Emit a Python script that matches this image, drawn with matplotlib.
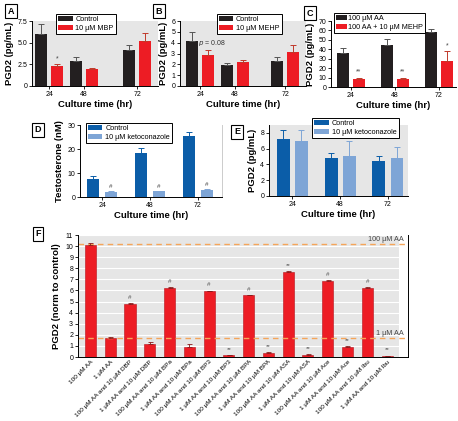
import numpy as np
import matplotlib
matplotlib.use("Agg")
import matplotlib.pyplot as plt

W, H = 458, 421

plt.rcParams['font.family'] = ['Liberation Sans', 'DejaVu Sans']
plt.rcParams['axes.linewidth'] = 0.7
plt.rcParams['xtick.major.width'] = 0.6
plt.rcParams['ytick.major.width'] = 0.6
plt.rcParams['xtick.major.size'] = 2
plt.rcParams['ytick.major.size'] = 2

# ---- data ----
hours = ['24', '48', '72']

a_ctrl = [5.97, 2.9, 4.13]
a_ctrl_err = [1.15, 0.4, 0.65]
a_mbp = [2.35, 1.92, 5.17]
a_mbp_err = [0.2, 0.1, 0.9]

b_ctrl = [4.16, 1.9, 2.3]
b_ctrl_err = [0.8, 0.21, 0.34]
b_mehp = [2.87, 2.18, 3.17]
b_mehp_err = [0.46, 0.21, 0.62]

c_aa = [36.4, 44.5, 58.5]
c_aa_err = [4.6, 6.0, 3.5]
c_mehp = [9.0, 9.0, 27.7]
c_mehp_err = [1.0, 1.0, 10.5]

d_ctrl = [7.5, 18.4, 25.4]
d_ctrl_err = [1.2, 2.0, 1.8]
d_keto = [2.0, 2.3, 2.8]
d_keto_err = [0.4, 0.3, 0.4]

e_ctrl = [7.2, 4.8, 4.45]
e_ctrl_err = [1.2, 0.6, 0.65]
e_keto = [7.0, 5.1, 4.8]
e_keto_err = [1.4, 1.9, 1.4]

f_labels = ['100 µM AA', '1 µM AA',
            '100 µM AA and 10 µM DBP', '1 µM AA and 10 µM DBP',
            '100 µM AA and 10 µM BPa', '1 µM AA and 10 µM BPa',
            '100 µM AA and 10 µM BP3', '1 µM AA and 10 µM BP3',
            '100 µM AA and 10 µM BPA', '1 µM AA and 10 µM BPA',
            '100 µM AA and 10 µM ASA', '1 µM AA and 10 µM ASA',
            '100 µM AA and 10 µM Ace', '1 µM AA and 10 µM Ace',
            '100 µM AA and 10 µM Ibu', '1 µM AA and 10 µM Ibu']
f_values = [10.1, 1.7, 4.8, 1.15, 6.24, 0.9, 5.94, 0.15,
            5.55, 0.35, 7.7, 0.2, 6.85, 0.9, 6.24, 0.1]
f_err = [0.15, 0.06, 0.04, 0.2, 0.05, 0.3, 0.04, 0.03,
         0.05, 0.06, 0.04, 0.03, 0.05, 0.08, 0.04, 0.03]
f_marks = ['', '', '#', '', '#', '', '#', '**', '#', '**',
           '**', '**', '#', '**', '#', '**']
ref_100 = 10.15
ref_1 = 1.72

BLACK = '#231f20'
RED = '#ed1c24'
DBLUE = '#0b5da8'
LBLUE = '#7ea5d6'
GRAY = '#e6e6e6'
ORANGE = '#f5a55a'

TICK_FS = 5
LAB_FS = 6.8
LEG_FS = 5.2


def px_axes(fig, x0, y0, x1, y1):
    return fig.add_axes([x0 / W, 1 - y1 / H, (x1 - x0) / W, (y1 - y0) / H])


def panel_letter(fig, x, y, letter):
    fig.text(x / W, 1 - y / H, letter, fontsize=6.5, fontweight='bold',
             ha='center', va='center',
             bbox=dict(boxstyle='square,pad=0.3', fc='white', ec='black', lw=0.8))


def grouped(ax, pos, s1, e1, s2, e2, c1, c2, l1, l2, width, off, ec1, ec2):
    pos = np.asarray(pos, dtype=float)
    ax.bar(pos - off, s1, width, color=c1, label=l1, zorder=2)
    ax.bar(pos + off, s2, width, color=c2, label=l2, zorder=2)
    ax.errorbar(pos - off, s1, yerr=[np.zeros(3), e1], fmt='none', ecolor=ec1,
                elinewidth=0.7, capsize=2, capthick=0.7, zorder=3)
    ax.errorbar(pos + off, s2, yerr=[np.zeros(3), e2], fmt='none', ecolor=ec2,
                elinewidth=0.7, capsize=2, capthick=0.7, zorder=3)
    ax.set_xticks(pos)
    ax.set_xticklabels(hours)
    ax.tick_params(labelsize=TICK_FS, pad=1.5)
    ax.spines['top'].set_visible(False)
    ax.spines['right'].set_visible(False)
    ax.set_xlabel('Culture time (hr)', fontsize=LAB_FS, fontweight='bold', labelpad=1.5)


def legend(ax, fx, fy, hl=2.0, tp=0.4):
    lg = ax.legend(loc='upper left', bbox_to_anchor=(fx, fy), fontsize=LEG_FS,
                   frameon=True, fancybox=False, edgecolor='black', framealpha=1,
                   handlelength=hl, handleheight=0.7, borderpad=0.3,
                   labelspacing=0.2, handletextpad=tp, borderaxespad=0)
    lg.get_frame().set_linewidth(0.7)
    lg.set_zorder(5)


fig = plt.figure(figsize=(W / 100, H / 100), dpi=100)

# ---- A ----
ax = px_axes(fig, 32, 21, 158, 86)
ax.set_facecolor(GRAY)
posA = [0, 1, 2.55]
grouped(ax, posA, a_ctrl, a_ctrl_err, a_mbp, a_mbp_err, BLACK, RED,
        'Control', '10 µM MBP', 0.35, 0.23, '#555555', '#c0392b')
ax.set_xlim(-0.5, 3.15)
ax.set_ylim(0, 7.5)
ax.set_yticks([0, 2.5, 5.0, 7.5])
ax.set_yticklabels(['0', '2.5', '5.0', '7.5'])
ax.set_ylabel('PGD2 (pg/mL)', fontsize=LAB_FS, fontweight='bold', labelpad=2)
ax.text(posA[0] + 0.23, a_mbp[0] + a_mbp_err[0] + 0.2, '*', ha='center',
        va='bottom', fontsize=5, color='#444444')
legend(ax, 0.19, 1.11)
panel_letter(fig, 11, 11, 'A')

# ---- B ----
ax = px_axes(fig, 180, 21, 306, 86)
ax.set_facecolor(GRAY)
posB = [0, 1, 2.45]
grouped(ax, posB, b_ctrl, b_ctrl_err, b_mehp, b_mehp_err, BLACK, RED,
        'Control', '10 µM MEHP', 0.35, 0.23, '#555555', '#c0392b')
ax.set_xlim(-0.58, 3.05)
ax.set_ylim(0, 6)
ax.set_yticks(range(0, 7))
ax.set_ylabel('PGD2 (pg/mL)', fontsize=LAB_FS, fontweight='bold', labelpad=2)
ax.text(posB[0] - 0.06, 3.95, r'$p$ = 0.08', fontsize=5, ha='left',
        va='center', color='#333333', zorder=4)
legend(ax, 0.29, 1.11)
panel_letter(fig, 159, 11, 'B')

# ---- C ----
ax = px_axes(fig, 331, 21, 456, 87)
posC = [0, 1, 2]
grouped(ax, posC, c_aa, c_aa_err, c_mehp, c_mehp_err, BLACK, RED,
        '100 µM AA', '100 AA + 10 µM MEHP', 0.27, 0.18, '#555555', '#c0392b')
ax.set_xlim(-0.45, 2.39)
ax.set_ylim(0, 70)
ax.set_yticks(range(0, 71, 10))
ax.set_ylabel('PGD2 (pg/mL)', fontsize=LAB_FS, fontweight='bold', labelpad=2)
for i, m in enumerate(['**', '**', '*']):
    ax.text(posC[i] + 0.18, c_mehp[i] + c_mehp_err[i] + 2, m, ha='center',
            va='bottom', fontsize=5, color='#444444')
legend(ax, 0.02, 1.12, hl=1.5, tp=0.2)
panel_letter(fig, 310, 13, 'C')

# ---- D ----
ax = px_axes(fig, 80, 125, 222, 197)
posD = [0, 1, 2]
grouped(ax, posD, d_ctrl, d_ctrl_err, d_keto, d_keto_err, DBLUE, LBLUE,
        'Control', '10 µM ketoconazole', 0.25, 0.18, DBLUE, LBLUE)
ax.set_xlim(-0.46, 2.5)
ax.set_ylim(0, 30)
ax.set_yticks([0, 10, 20, 30])
ax.spines['right'].set_visible(True)
ax.spines['right'].set_color('#cccccc')
ax.set_ylabel('Testosterone (nM)', fontsize=LAB_FS, fontweight='bold', labelpad=2)
for i in range(3):
    ax.text(posD[i] + 0.18, d_keto[i] + d_keto_err[i] + 0.8, '#', ha='center',
            va='bottom', fontsize=4.5, color='#444444')
legend(ax, 0.04, 1.03)
panel_letter(fig, 38, 130, 'D')

# ---- E ----
ax = px_axes(fig, 269, 125, 408, 196)
ax.set_facecolor(GRAY)
posE = [0, 1, 2]
grouped(ax, posE, e_ctrl, e_ctrl_err, e_keto, e_keto_err, DBLUE, LBLUE,
        'Control', '10 µM ketoconazole', 0.27, 0.19, DBLUE, LBLUE)
ax.set_xlim(-0.49, 2.42)
ax.set_ylim(0, 9)
ax.set_yticks([0, 2, 4, 6, 8])
ax.set_ylabel('PGD2 (pg/mL)', fontsize=LAB_FS, fontweight='bold', labelpad=2)
legend(ax, 0.31, 1.1)
panel_letter(fig, 237, 132, 'E')

# ---- F ----
ax = px_axes(fig, 78, 235, 408, 357)
xf = np.arange(len(f_values))
ax.axvspan(-0.63, 15.6, ymin=0, ymax=1, color=GRAY, zorder=0, lw=0)
for yv in range(1, 12):
    ax.plot([-0.63, 15.6], [yv, yv], color='white', lw=0.8, zorder=1)
ax.bar(xf, f_values, 0.56, color=RED, edgecolor='#b5121b', linewidth=0.4, zorder=2)
ax.errorbar(xf, f_values, yerr=[np.zeros(len(f_err)), f_err], fmt='none',
            ecolor='#8a1a1a', elinewidth=0.6, capsize=1.8, capthick=0.6, zorder=3)
ax.axhline(ref_100, color=ORANGE, ls=(0, (4, 3)), lw=1.0, zorder=2.5)
ax.axhline(ref_1, color=ORANGE, ls=(0, (4, 3)), lw=1.0, zorder=2.5)
ax.text(15.85, ref_100 + 0.1, '100 µM AA', ha='right', va='bottom',
        fontsize=5.2, color='#444444')
ax.text(15.85, ref_1 + 0.1, '1 µM AA', ha='right', va='bottom',
        fontsize=5.2, color='#444444')
for i, m in enumerate(f_marks):
    if m:
        ax.text(xf[i], f_values[i] + f_err[i] + 0.3, m, ha='center', va='bottom',
                fontsize=4.5, color='#555555')
ax.set_xlim(-0.63, 16.06)
ax.set_ylim(0, 11)
ax.set_yticks(range(0, 12))
ax.set_xticks(xf)
ax.set_xticklabels(f_labels, rotation=45, ha='right', va='top',
                   rotation_mode='anchor', fontsize=4.6)
ax.tick_params(axis='x', length=0, pad=1.5)
ax.tick_params(axis='y', labelsize=TICK_FS, pad=1.5)
ax.spines['top'].set_visible(False)
ax.set_ylabel('PGD2 (norm to control)', fontsize=LAB_FS, fontweight='bold', labelpad=3)
panel_letter(fig, 38, 234, 'F')

fig.savefig('out.png', dpi=100)
